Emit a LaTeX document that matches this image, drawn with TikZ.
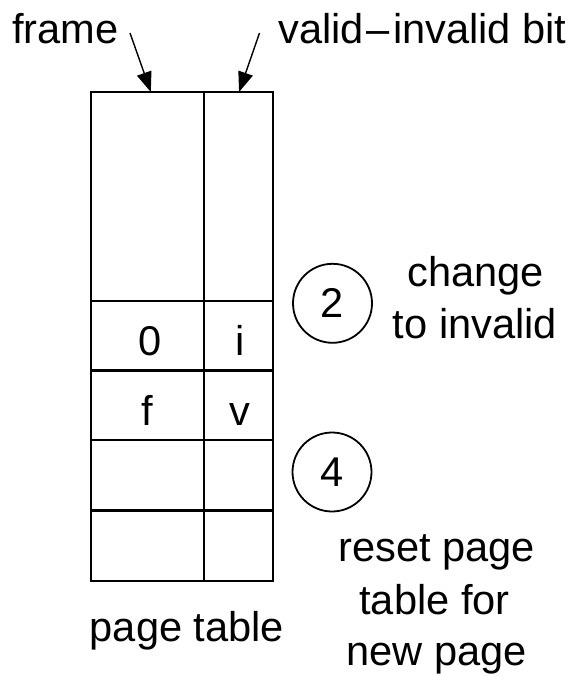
\documentclass[tikz,border=0pt]{standalone}
\usepackage{fontspec}
\setmainfont{Liberation Sans}
\usetikzlibrary{arrows.meta}
\begin{document}
\begin{tikzpicture}[x=1pt,y=-1pt,
  cell/.style={draw,line width=2.2pt,inner sep=0pt,outer sep=0pt,anchor=north west},
  lbl/.style={font=\fontsize{41.6}{50}\selectfont,inner sep=0pt,anchor=base},
  num/.style={draw,circle,line width=1.8pt,minimum size=79pt,inner sep=0pt,font=\fontsize{41.6}{50}\selectfont},
  ptr/.style={line width=1.4pt,-{Triangle[length=20pt,width=15pt]}}]
\useasboundingbox (0,0) rectangle (574,676);
% page table cells
\node[cell,minimum width=113.3pt,minimum height=209pt] (a0) at (90.7,92) {};
\node[cell,minimum width=68.7pt,minimum height=209pt] (b0) at (204,92) {};
\node[cell,minimum width=113.3pt,minimum height=69.5pt] (a1) at (90.7,301) {};
\node[cell,minimum width=68.7pt,minimum height=69.5pt] (b1) at (204,301) {};
\node[cell,minimum width=113.3pt,minimum height=69.5pt] (a2) at (90.7,370.5) {};
\node[cell,minimum width=68.7pt,minimum height=69.5pt] (b2) at (204,370.5) {};
\node[cell,minimum width=113.3pt,minimum height=70.5pt] (a3) at (90.7,440) {};
\node[cell,minimum width=68.7pt,minimum height=70.5pt] (b3) at (204,440) {};
\node[cell,minimum width=113.3pt,minimum height=70.5pt] (a4) at (90.7,510.5) {};
\node[cell,minimum width=68.7pt,minimum height=70.5pt] (b4) at (204,510.5) {};
% cell texts
\node[lbl] (t0) at (150,355) {0};
\node[lbl] (ti) at (240,355) {i};
\node[lbl] (tf) at (147,425.7) {f};
\node[lbl] (tv) at (240,425.7) {v};
% top labels and pointers
\node[lbl] (frame) at (65.5,43.3) {frame};
\node[lbl] (vib) at (422.5,43.3) {valid\kern3pt–\kern3pt invalid bit};
\coordinate (fs) at (130,33);
\coordinate (vs) at (259.5,33);
\draw[ptr] (fs) -- ([xshift=3.5pt]a0.north);
\draw[ptr] (vs) -- ([xshift=0.7pt]b0.north);
% step circles
\node[num] (s2) at (332.5,303.3) {2};
\node[num] (s4) at (332,472) {4};
\node[lbl] (c1) at (475.5,286.7) {change};
\node[lbl] (c2) at (475,338) {to invalid};
\node[lbl] (r1) at (436.7,561.7) {reset page};
\node[lbl] (r2) at (434.5,614) {table for};
\node[lbl] (r3) at (436.7,665) {new page};
\node[lbl] (pt) at (187,641.7) {page table};
\end{tikzpicture}
\end{document}
